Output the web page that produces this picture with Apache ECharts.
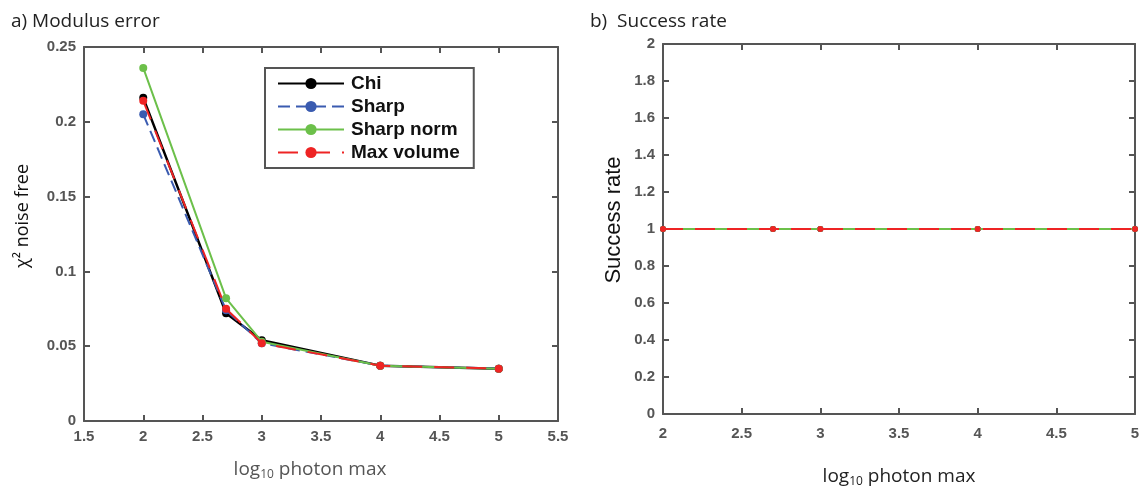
<!DOCTYPE html>
<html><head><meta charset="utf-8">
<script src="https://cdn.jsdelivr.net/npm/echarts@6/dist/echarts.min.js"></script>
<style>html,body{margin:0;padding:0;background:#fff}#c{width:1144px;height:493px}</style>
</head><body><div id="c"></div>
<script>
// log10 photon max
var xValues = [2, 2.699, 3, 4, 5];
var methods = ['Chi', 'Sharp', 'Sharp norm', 'Max volume'];
// modulus error (chi^2 noise free)
var chiErr = [0.216, 0.072, 0.054, 0.037, 0.035];
var sharpErr = [0.205, 0.074, 0.052, 0.037, 0.035];
var sharpNormErr = [0.236, 0.082, 0.053, 0.037, 0.035];
var maxVolErr = [0.214, 0.075, 0.052, 0.037, 0.035];
// success rate
var chiSR = [1, 1, 1, 1, 1];
var sharpSR = [1, 1, 1, 1, 1];
var sharpNormSR = [1, 1, 1, 1, 1];
var maxVolSR = [1, 1, 1, 1, 1];
var xTicksLeft = [1.5, 5.5, 0.5];
var yTicksLeft = [0, 0.25, 0.05];
var xTicksRight = [2, 5, 0.5];
var yTicksRight = [0, 2, 0.2];

var colors = ['#000000', '#3a5bb0', '#6cc04a', '#ee2424'];
var lineTypes = ['solid', [12, 6], 'solid', [20, 12]];
var widths = [2.5, 2, 2, 2];

function pairs(ys) { return xValues.map(function (x, i) { return [x, ys[i]]; }); }

var axisColor = '#555';
var tickFont = { color: '#555', fontFamily: 'Liberation Sans', fontWeight: 'bold', fontSize: 15 };
function xAx(grid, t, show, margin) {
  return {
    type: 'value', gridIndex: grid, min: t[0], max: t[1], interval: t[2], position: show ? 'bottom' : 'top',
    axisLine: { show: true, onZero: false, lineStyle: { color: axisColor, width: 2 } },
    axisTick: { show: true, inside: true, length: 6, lineStyle: { color: axisColor, width: 2 } },
    axisLabel: Object.assign({ show: show, margin: margin || 8, showMinLabel: true, showMaxLabel: true }, tickFont),
    splitLine: { show: false }
  };
}
function yAx(grid, t, show) {
  return {
    type: 'value', gridIndex: grid, min: t[0], max: t[1], interval: t[2], position: show ? 'left' : 'right',
    axisLine: { show: true, onZero: false, lineStyle: { color: axisColor, width: 2 } },
    axisTick: { show: true, inside: true, length: 6, lineStyle: { color: axisColor, width: 2 } },
    axisLabel: Object.assign({ show: show, margin: 8, showMinLabel: true, showMaxLabel: true }, tickFont),
    splitLine: { show: false }
  };
}

var errData = [chiErr, sharpErr, sharpNormErr, maxVolErr];
var srData = [chiSR, sharpSR, sharpNormSR, maxVolSR];
var series = [];
methods.forEach(function (m, i) {
  series.push({
    name: m, type: 'line', xAxisIndex: 0, yAxisIndex: 0, data: pairs(errData[i]),
    symbol: 'circle', symbolSize: 8, color: colors[i],
    lineStyle: { color: colors[i], width: widths[i], type: lineTypes[i] },
    itemStyle: { color: colors[i] }, z: 2 + i
  });
});
methods.forEach(function (m, i) {
  series.push({
    name: m, type: 'line', xAxisIndex: 2, yAxisIndex: 2, data: pairs(srData[i]),
    symbol: 'circle', symbolSize: 6, color: colors[i],
    lineStyle: { color: colors[i], width: 2, type: lineTypes[i] },
    itemStyle: { color: colors[i] }, z: 2 + i
  });
});

var chart = echarts.init(document.getElementById('c'), null, { renderer: 'canvas' });
chart.setOption({
  animation: false,
  backgroundColor: '#fff',
  title: [
    { text: 'a) Modulus error', left: 6, top: 7, textStyle: { fontFamily: 'Open Sans', fontWeight: 'normal', fontSize: 19, color: '#222' } },
    { text: 'b)  Success rate', left: 585, top: 7, textStyle: { fontFamily: 'Open Sans', fontWeight: 'normal', fontSize: 19, color: '#222' } }
  ],
  grid: [
    { left: 84, right: 586, top: 47, bottom: 72, containLabel: false },
    { left: 663, right: 9, top: 44, bottom: 77, containLabel: false }
  ],
  legend: {
    data: methods, left: 265, top: 68, width: 212, orient: 'vertical',
    itemWidth: 66, itemHeight: 14, itemGap: 4, padding: [6, 14, 6, 12],
    borderColor: '#555', borderWidth: 2, backgroundColor: '#fff',
    textStyle: { fontFamily: 'Liberation Sans', fontWeight: 'bold', fontSize: 19, color: '#111', padding: [0, 0, 0, 2] }
  },
  xAxis: [
    Object.assign(xAx(0, xTicksLeft, true), {
      name: '{a|log}{s|10}{a| photon max}', nameLocation: 'middle', nameGap: 38,
      nameTextStyle: { padding: [0, 22, 0, 0], rich: { a: { fontFamily: 'Open Sans', fontSize: 19, color: '#555' }, s: { fontFamily: 'Open Sans', fontSize: 12, color: '#555', verticalAlign: 'bottom', padding: [10, 0, 0, 0] } } }
    }),
    xAx(0, xTicksLeft, false),
    Object.assign(xAx(1, xTicksRight, true, 12), {
      name: '{a|log}{s|10}{a| photon max}', nameLocation: 'middle', nameGap: 52,
      nameTextStyle: { rich: { a: { fontFamily: 'Open Sans', fontSize: 19, color: '#222' }, s: { fontFamily: 'Open Sans', fontSize: 12, color: '#222', verticalAlign: 'bottom', padding: [10, 0, 0, 0] } } }
    }),
    xAx(1, xTicksRight, false)
  ],
  yAxis: [
    Object.assign(yAx(0, yTicksLeft, true), {
      name: 'χ² noise free', nameLocation: 'middle', nameGap: 52, nameRotate: 90,
      nameTextStyle: { fontFamily: 'Open Sans', fontSize: 18, color: '#111', padding: [0, 0, 0, 36] }
    }),
    yAx(0, yTicksLeft, false),
    Object.assign(yAx(1, yTicksRight, true), {
      name: 'Success rate', nameLocation: 'middle', nameGap: 38, nameRotate: 90,
      nameTextStyle: { fontFamily: 'Liberation Sans', fontSize: 22, color: '#111', padding: [0, 0, 0, 18] }
    }),
    yAx(1, yTicksRight, false)
  ],
  series: series
});
</script></body></html>
